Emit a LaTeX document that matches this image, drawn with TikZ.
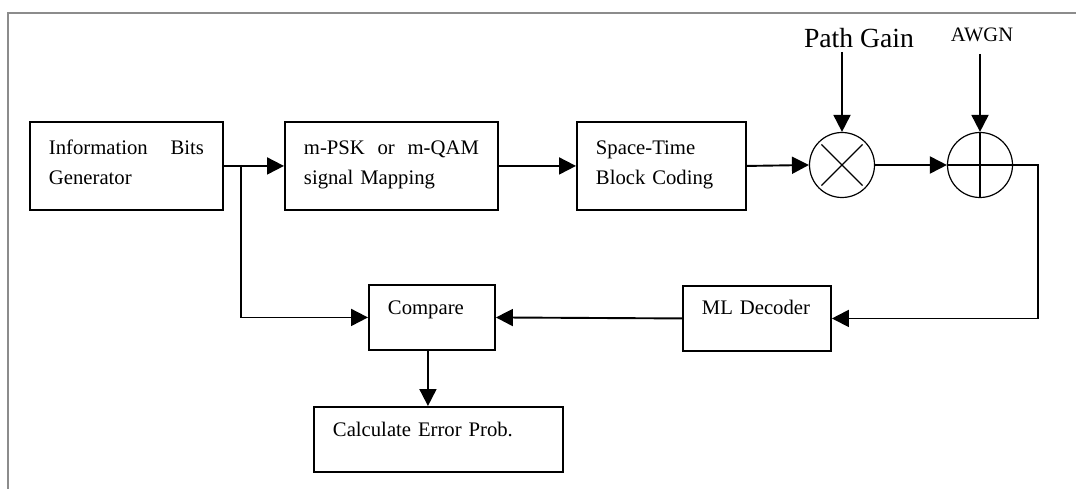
\documentclass[tikz,border=0pt]{standalone}
\usepackage{fontspec}
\setmainfont{Liberation Serif}
\usetikzlibrary{arrows.meta}

\begin{document}
\begin{tikzpicture}[x=1pt,y=-1pt,
  blk/.style={draw, line width=1.9pt, anchor=north west, inner xsep=19pt, inner ysep=0pt, align=left, font=\fontsize{20.7}{30}\selectfont},
  mix/.style={circle, draw, line width=1.2pt, minimum size=65pt, inner sep=0pt},
  flow/.style={line width=1.9pt, -{Triangle[length=17pt, width=17pt]}}]
\useasboundingbox (0,0) rectangle (1076,489);
\draw[black!45, line width=2pt] (8,500) -- (8,13) -- (1090,13);
\node[blk, text width=155pt, text height=33pt, text depth=55pt] (info) at (29,121) {Information\hfill Bits\\Generator};
\node[blk, text width=175pt, text height=33pt, text depth=55pt] (map) at (284,121) {m-PSK\hfill or\hfill m-QAM\\signal Mapping};
\node[blk, text width=131pt, text height=33pt, text depth=55pt] (stbc) at (576,121) {Space-Time\\Block Coding};
\node[mix] (mul) at (842,165) {};
\node[mix] (add) at (980,165) {};
\node[font=\fontsize{27.7}{30}\selectfont, anchor=base] (gain) at (859,48) {Path Gain};
\node[font=\fontsize{20.5}{24}\selectfont, anchor=base] (noise) at (982,42) {AWGN};
\node[blk, text width=88pt, text height=30pt, text depth=35pt] (cmp) at (368,284) {Compare};
\node[blk, text width=110pt, text height=29pt, text depth=36pt] (dec) at (682,285) {ML Decoder};
\node[blk, text width=211pt, text height=30pt, text depth=35pt] (calc) at (313,406) {Calculate Error Prob.};
\draw[line width=1.2pt, shorten <=4pt, shorten >=4pt] (mul.north west) -- (mul.south east);
\draw[line width=1.2pt, shorten <=4pt, shorten >=4pt] (mul.north east) -- (mul.south west);
\draw[line width=1.2pt] (add.north) -- (add.south) (add.west) -- (add.east);
\coordinate (tap) at (241,165);
\coordinate (turn) at (1038,165);
\draw[flow] (info.east) -- (map.west);
\draw[flow] (tap) |- (cmp.west);
\draw[flow] (map.east) -- (stbc.west);
\draw[flow] (stbc.east) -- (mul.west);
\draw[flow] (mul.east) -- (add.west);
\draw[flow] (add.east) -- (turn) |- (dec.east);
\draw[flow] (dec.west) -- (cmp.east);
\draw[flow] ([xshift=-4pt]cmp.south) -- ([xshift=-4pt]cmp.south |- calc.north);
\draw[flow] (gain.south -| mul.north) -- (mul.north);
\draw[flow, shorten <=8pt] (noise.south -| add.north) -- (add.north);
\end{tikzpicture}
\end{document}
